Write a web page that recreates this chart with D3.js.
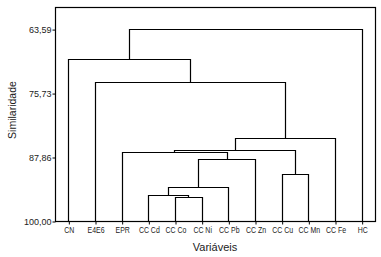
<!DOCTYPE html>
<html>
<head>
<meta charset="utf-8">
<script src="https://cdn.jsdelivr.net/npm/d3@7"></script>
<style>
  body { margin: 0; background: #fff; }
  text { font-family: "Liberation Sans", Arial, sans-serif; fill: #222; }
</style>
</head>
<body>
<div id="chart"></div>
<script>
// variáveis (folhas), na ordem do dendrograma
var leaves = ["CN", "E4E6", "EPR", "CC Cd", "CC Co", "CC Ni", "CC Pb", "CC Zn", "CC Cu", "CC Mn", "CC Fe", "HC"];

// passos de agrupamento: cN = resultado do passo N
var joinLeft  = ["CC Co", "CC Cd", "c2",    "CC Cu", "c3",    "EPR", "c6", "c7",    "E4E6", "CN", "c10"];
var joinRight = ["CC Ni", "c1",    "CC Pb", "CC Mn", "CC Zn", "c5",  "c4", "CC Fe", "c8",   "c9", "HC"];
var joinSim   = [95.36, 94.98, 93.46, 91.12, 88.17, 86.99, 86.61, 84.31, 73.67, 69.30, 63.59];

var yTicks = [63.59, 75.73, 87.86, 100.00];
var yMin = 59.40;

var W = 381, H = 257;
var margin = { left: 55, right: 375, top: 7, bottom: 221 };

var svg = d3.select("#chart").append("svg")
    .attr("width", W)
    .attr("height", H);

var x = d3.scalePoint().domain(leaves).range([margin.left, margin.right]).padding(0.5);
var y = d3.scaleLinear().domain([100, yMin]).range([margin.bottom, margin.top]);

// posição e altura de cada nó
var nodeX = {}, nodeSim = {};
leaves.forEach(function (d) { nodeX[d] = x(d); nodeSim[d] = 100; });

var g = svg.append("g").attr("transform", "translate(0.5,0.5)");

joinLeft.forEach(function (a, i) {
    var b = joinRight[i], s = joinSim[i];
    var xa = Math.round(nodeX[a]), xb = Math.round(nodeX[b]);
    var path = d3.path();
    path.moveTo(xa, Math.round(y(nodeSim[a])));
    path.lineTo(xa, Math.round(y(s)));
    path.lineTo(xb, Math.round(y(s)));
    path.lineTo(xb, Math.round(y(nodeSim[b])));
    g.append("path")
        .attr("d", path.toString())
        .style("fill", "none")
        .style("stroke", "#000")
        .style("stroke-width", "1.2px");
    var id = "c" + (i + 1);
    nodeX[id] = (nodeX[a] + nodeX[b]) / 2;
    nodeSim[id] = s;
});

// moldura
g.append("rect")
    .attr("x", margin.left)
    .attr("y", margin.top)
    .attr("width", margin.right - margin.left)
    .attr("height", margin.bottom - margin.top)
    .style("fill", "none")
    .style("stroke", "#000")
    .style("stroke-width", "1.2px");

// eixo Y
var yAxis = g.append("g")
    .attr("transform", "translate(" + margin.left + ",0)")
    .call(d3.axisLeft(y)
        .tickValues(yTicks)
        .tickSize(3)
        .tickPadding(1)
        .tickFormat(function (d) { return d3.format(".2f")(d).replace(".", ","); }));
yAxis.select(".domain").remove();
yAxis.selectAll("text").style("font-size", "9px").style("fill", "#222");
yAxis.selectAll("line").style("stroke", "#000");

// eixo X (rótulos estreitos, como no original)
var xAxis = g.append("g")
    .attr("transform", "translate(0," + margin.bottom + ")")
    .call(d3.axisBottom(x).tickSize(3).tickPadding(2));
xAxis.select(".domain").remove();
xAxis.selectAll("text")
    .attr("transform", "scale(0.82,1)")
    .style("font-size", "8.5px")
    .style("fill", "#222");
xAxis.selectAll("line").style("stroke", "#000");

// títulos dos eixos
svg.append("text")
    .attr("x", (margin.left + margin.right) / 2)
    .attr("y", 251)
    .style("text-anchor", "middle")
    .style("font-size", "11px")
    .text("Variáveis");

svg.append("text")
    .attr("transform", "translate(16,110) rotate(-90)")
    .style("text-anchor", "middle")
    .style("font-size", "10.5px")
    .text("Similaridade");
</script>
</body>
</html>
